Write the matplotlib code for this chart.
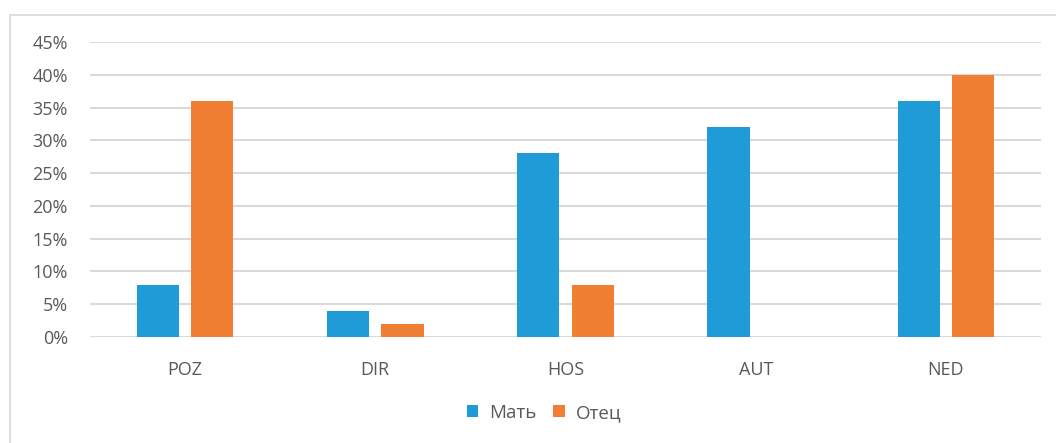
import matplotlib
matplotlib.use("Agg")
import matplotlib.pyplot as plt
from matplotlib.patches import Rectangle
from matplotlib.ticker import FuncFormatter, MultipleLocator
import numpy as np

categories = ["POZ", "DIR", "HOS", "AUT", "NED"]
mother = [8, 4, 28, 32, 36]
father = [36, 2, 8, 0, 40]
series_names = ["Мать", "Отец"]

BLUE = "#1F9BD7"
ORANGE = "#F07E33"
GRID = "#D9D9D9"
TEXT = "#595959"

plt.rcParams["font.family"] = ["Open Sans", "DejaVu Sans"]

W, H = 1056, 443
fig = plt.figure(figsize=(W / 100, H / 100), dpi=100)

# light chart-area frame
fig.add_artist(Rectangle((10 / W, -0.1), 1.2, 1 - 15 / H + 0.1,
                         transform=fig.transFigure, fill=False,
                         edgecolor="#D9D9D9", linewidth=1.2))

ax = fig.add_axes([90 / W, 106 / H, 951 / W, 295 / H])
x = np.arange(len(categories))
bw = 0.222
off = 0.143
ax.bar(x - off, np.array(mother) / 100, bw, color=BLUE, label=series_names[0], zorder=3)
ax.bar(x + off, np.array(father) / 100, bw, color=ORANGE, label=series_names[1], zorder=3)

ax.set_xlim(-0.5, len(categories) - 0.5)
ax.set_ylim(0, 0.45)
ax.yaxis.set_major_locator(MultipleLocator(0.05))
ax.yaxis.set_major_formatter(FuncFormatter(lambda v, p: f"{v * 100:.0f}%"))
ax.set_xticks(x)
ax.set_xticklabels(categories)
ax.grid(axis="y", color=GRID, linewidth=1.5, zorder=0)
ax.set_axisbelow(True)
for s in ax.spines.values():
    s.set_visible(False)
ax.tick_params(axis="y", length=0, pad=16, labelsize=13, labelcolor=TEXT)
ax.tick_params(axis="x", length=0, pad=17, labelsize=13, labelcolor=TEXT)

fig.legend(loc="center", bbox_to_anchor=(544 / W, 1 - 413 / H), ncol=2, frameon=False,
           fontsize=13.5, labelcolor=TEXT, handlelength=0.6, handleheight=0.6,
           handletextpad=0.6, columnspacing=0.9)

fig.savefig("out.png", dpi=100)
